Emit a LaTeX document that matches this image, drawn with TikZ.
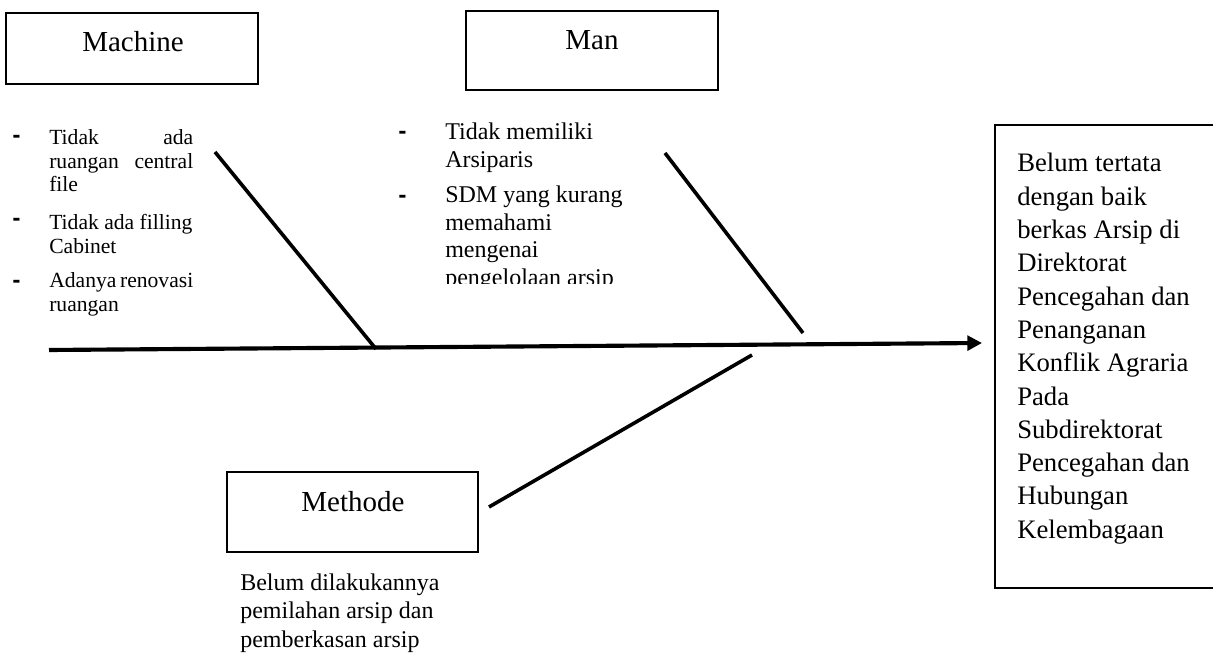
\documentclass[tikz,border=0pt]{standalone}
\usepackage{fontspec}
\setmainfont{Liberation Serif}
\newfontfamily\dashfont{DejaVu Sans}
\usetikzlibrary{arrows.meta}
\begin{document}
\begin{tikzpicture}[x=0.75pt,y=-0.75pt,
  catbox/.style={draw=black, line width=1.8pt, inner sep=0pt, fill=none},
  cattext/.style={inner sep=0pt, anchor=base, font=\fontsize{21.75}{26}\selectfont},
  bone/.style={line width=2.7pt, line cap=butt},
  spine/.style={line width=3.1pt, -{Triangle[length=11pt,width=11pt]}},
  dashmark/.style={inner sep=0pt, anchor=base west, font=\dashfont\bfseries\fontsize{15}{15}\selectfont},
  itemtext/.style={inner sep=0pt, anchor=base west}
]
\useasboundingbox (0,0) rectangle (1213,655);

% category boxes
\node[catbox, minimum width=189pt, minimum height=53.25pt] (machine) at (132,48.5) {};
\node[cattext] (machineL) at (133,52) {Machine};
\node[catbox, minimum width=189pt, minimum height=59.25pt] (man) at (592,50.5) {};
\node[cattext] (manL) at (592,50) {Man};
\node[catbox, minimum width=188.25pt, minimum height=60pt] (methode) at (352.5,512) {};
\node[cattext] (methodeL) at (353,511) {Methode};

% result box
\node[catbox, line width=1.7pt, minimum width=165.75pt, minimum height=347.25pt] (result) at (1105.5,356.5) {};
\node[itemtext] (resultT) at (1017,172) {\vtop{\hsize=180pt\parindent=0pt\fontsize{20}{24.97}\selectfont
Belum tertata\\ dengan baik\\ berkas Arsip di\\ Direktorat\\ Pencegahan dan\\ Penanganan\\ Konflik Agraria\\ Pada\\ Subdirektorat\\ Pencegahan dan\\ Hubungan\\ Kelembagaan}};

% spine and bones
\coordinate (tail) at (49,350);
\coordinate (head) at (982,343);
\draw[spine] (tail) -- (head);
\coordinate (mcTop) at (215,152);
\coordinate (mcFoot) at (376,349);
\draw[bone] (mcTop) -- (mcFoot);
\coordinate (mnTop) at (665,153);
\coordinate (mnFoot) at (803,333);
\draw[bone] (mnTop) -- (mnFoot);
\coordinate (mtLow) at (489,507);
\coordinate (mtFoot) at (752,355);
\draw[bone] (mtLow) -- (mtFoot);

% Machine causes
\node[dashmark] (md1) at (12,143) {-};
\node[dashmark] (md2) at (12,226) {-};
\node[dashmark] (md3) at (12,288) {-};
\node[itemtext] (mc1) at (49,145) {\vtop{\hsize=108pt\parindent=0pt\fontsize{16.2}{17.6}\selectfont
Tidak\hfill ada\\ ruangan\hfill central\\ file}};
\node[itemtext] (mc2) at (49,230) {\vtop{\hsize=108pt\parindent=0pt\fontsize{16.2}{17.6}\selectfont
Tidak ada filling\\ Cabinet}};
\node[itemtext] (mc3) at (49,288) {\vtop{\hsize=108pt\parindent=0pt\fontsize{16.2}{17.6}\selectfont
Adanya renovasi\\ ruangan}};

% Man causes
\node[dashmark] (nd1) at (398,139) {-};
\node[dashmark] (nd2) at (398,203) {-};
\node[itemtext] (nc1) at (445,140) {\vtop{\hsize=160pt\parindent=0pt\fontsize{18}{20.6}\selectfont
Tidak memiliki\\ Arsiparis}};
\begin{scope}
\clip (380,180) rectangle (720,284);
\node[itemtext] (nc2) at (445,203) {\vtop{\hsize=160pt\parindent=0pt\fontsize{18}{20.6}\selectfont
SDM yang kurang\\ memahami\\ mengenai\\ pengelolaan arsip}};
\end{scope}

% Methode cause
\node[itemtext] (tc1) at (240,590) {\vtop{\hsize=180pt\parindent=0pt\fontsize{18}{21.4}\selectfont
Belum dilakukannya\\ pemilahan arsip dan\\ pemberkasan arsip}};
\end{tikzpicture}
\end{document}
